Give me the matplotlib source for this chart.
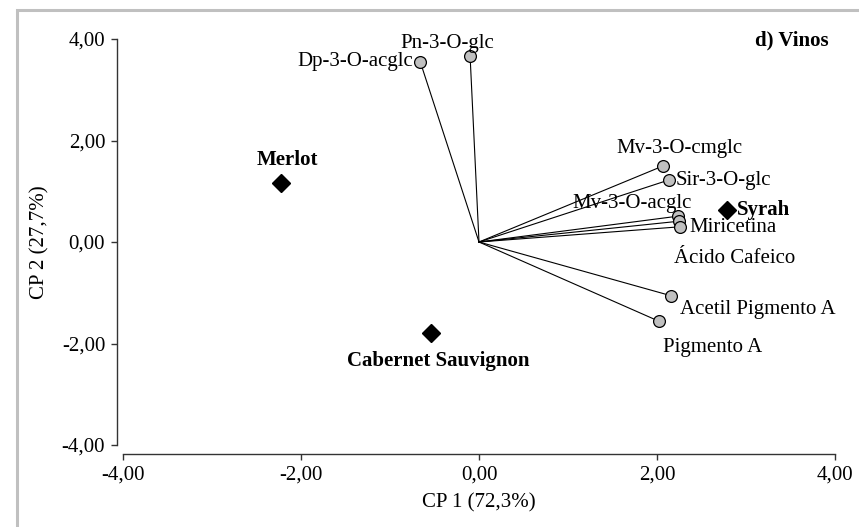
import matplotlib
matplotlib.use("Agg")
import matplotlib.pyplot as plt
from matplotlib.patches import Rectangle
from matplotlib.ticker import FuncFormatter

# loadings (variables)
var_names = ["Pn-3-O-glc", "Dp-3-O-acglc", "Mv-3-O-cmglc", "Sir-3-O-glc",
             "Mv-3-O-acglc", "Ácido Cafeico", "Miricetina",
             "Acetil Pigmento A", "Pigmento A"]
var_cp1 = [-0.10, -0.66, 2.07, 2.13, 2.24, 2.25, 2.26, 2.16, 2.02]
var_cp2 = [3.66, 3.55, 1.50, 1.22, 0.51, 0.41, 0.30, -1.06, -1.56]

# scores (wines)
wine_names = ["Merlot", "Cabernet Sauvignon", "Syrah"]
wine_cp1 = [-2.22, -0.54, 2.79]
wine_cp2 = [1.16, -1.79, 0.63]

ticks = [-4, -2, 0, 2, 4]

# label placement: (dx px, dy px, ha)
var_label_pos = [(-23, 13, "center"), (-7, 0, "right"), (16, 17, "center"),
                 (7, 0, "left"), (-46, 13, "center"), (55, -37, "center"),
                 (9, -1, "left"), (9, -14, "left"), (54, -26, "center")]
wine_label_pos = [(6, 23, "center"), (7, -28, "center"), (10, 0, "left")]

plt.rcParams["font.family"] = ["Liberation Serif", "DejaVu Serif"]
plt.rcParams["font.size"] = 15

W, H = 859, 527
fig = plt.figure(figsize=(W / 100, H / 100), dpi=100)
ax = fig.add_axes([123 / W, 82 / H, 712 / W, 406 / H])

# grey chart-area frame (only top and left edges show)
fig.patches.append(Rectangle((17 / W, -0.1), 1.2, 1.1 - 10 / H,
                             transform=fig.transFigure, fill=False,
                             edgecolor="#c0c0c0", linewidth=2.2, zorder=0))

for x, y in zip(var_cp1, var_cp2):
    ax.plot([0, x], [0, y], color="black", lw=0.8, zorder=2)
ax.plot(var_cp1, var_cp2, "o", ms=8.5, mfc="#c0c0c0", mec="black", mew=0.9,
        zorder=3, linestyle="none")
ax.plot(wine_cp1, wine_cp2, "D", ms=9, color="black", linestyle="none", zorder=3)

for name, x, y, (dx, dy, ha) in zip(var_names, var_cp1, var_cp2, var_label_pos):
    ax.annotate(name, (x, y), xytext=(dx, dy), textcoords="offset pixels",
                ha=ha, va="center", zorder=4)
for name, x, y, (dx, dy, ha) in zip(wine_names, wine_cp1, wine_cp2, wine_label_pos):
    ax.annotate(name, (x, y), xytext=(dx, dy), textcoords="offset pixels",
                ha=ha, va="center", fontweight="bold", zorder=4)

ax.text(0.9916, 0.9975, "d) Vinos", transform=ax.transAxes, ha="right",
        va="center", fontweight="bold")

ax.set_xlim(-4, 4)
ax.set_ylim(-4, 4)
ax.set_xticks(ticks)
ax.set_yticks(ticks)
fmt = FuncFormatter(lambda v, _: f"{v:.2f}".replace(".", ","))
ax.xaxis.set_major_formatter(fmt)
ax.yaxis.set_major_formatter(fmt)

for side in ("top", "right"):
    ax.spines[side].set_visible(False)
ax.spines["left"].set_position(("outward", 4.3))
ax.spines["bottom"].set_position(("outward", 6.5))
for side in ("left", "bottom"):
    ax.spines[side].set_linewidth(1.0)
    ax.spines[side].set_color("#333333")
ax.tick_params(direction="out", length=4.5, width=1.0, color="#333333", pad=4)
ax.patch.set_visible(False)

ax.set_xlabel("CP 1 (72,3%)", labelpad=6)
ax.set_ylabel("CP 2 (27,7%)", labelpad=9)

fig.savefig("out.png", dpi=100)
